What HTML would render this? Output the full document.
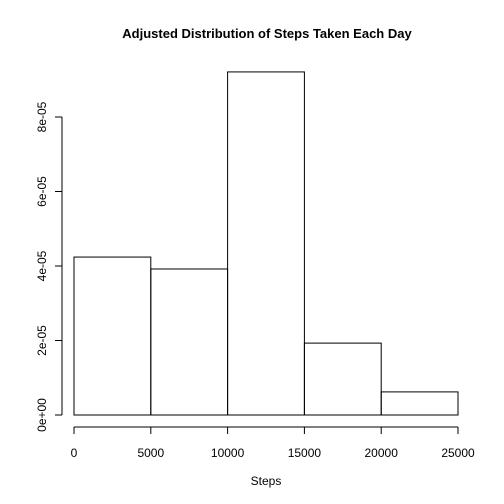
<!DOCTYPE html>
<html><head><meta charset="utf-8"><style>body{margin:0;background:#fff}svg{display:block}text{font-family:"Liberation Sans",Arial,sans-serif;fill:#000}</style></head>
<body>
<svg id="chart" width="504" height="504">
<text x="267" y="38" text-anchor="middle" font-size="13" font-weight="bold">Adjusted Distribution of Steps Taken Each Day</text>
<text x="266" y="485" text-anchor="middle" font-size="12">Steps</text>
<g id="bars"></g><g id="xaxis"></g><g id="yaxis"></g>
</svg>
<script>
const breaks=[0,5000,10000,15000,20000,25000];
const densities=[4.24e-5,3.92e-5,9.21e-5,1.93e-5,0.62e-5];
const xTicks=[0,5000,10000,15000,20000,25000];
const yTicks=[0,2e-5,4e-5,6e-5,8e-5];
const yLabels=["0e+00","2e-05","4e-05","6e-05","8e-05"];
const NS="http://www.w3.org/2000/svg";
const X=v=>74+v*(458-74)/25000;
const Y=v=>415-v*(415-117)/8e-5;
function mk(t,a,p){const e=document.createElementNS(NS,t);for(const k in a)e.setAttribute(k,a[k]);p.appendChild(e);return e;}
const bars=document.getElementById('bars');
densities.forEach((d,i)=>{
 const r=mk('rect',{x:X(breaks[i]),y:Y(d),width:X(breaks[i+1])-X(breaks[i]),height:Y(0)-Y(d),fill:'none',stroke:'#000','stroke-width':1},bars);
 
 
});
const xa=document.getElementById('xaxis');


mk('line',{x1:X(xTicks[0]),x2:X(xTicks[xTicks.length-1]),y1:427,y2:427,stroke:'#000'},xa);
xTicks.forEach(t=>{
 mk('line',{x1:X(t),x2:X(t),y1:427,y2:434,stroke:'#000'},xa);
 const tx=mk('text',{x:X(t),y:457,'text-anchor':'middle','font-size':12},xa);tx.textContent=t;
 
 
});
const ya=document.getElementById('yaxis');


mk('line',{x1:62,x2:62,y1:Y(yTicks[0]),y2:Y(yTicks[yTicks.length-1]),stroke:'#000'},ya);
yTicks.forEach((t,i)=>{
 mk('line',{x1:55,x2:62,y1:Y(t),y2:Y(t),stroke:'#000'},ya);
 const tx=mk('text',{x:46,y:Y(t),'text-anchor':'middle','font-size':12,transform:`rotate(-90 46 ${Y(t)})`},ya);tx.textContent=yLabels[i];
 
 
});
</script>
</body></html>
